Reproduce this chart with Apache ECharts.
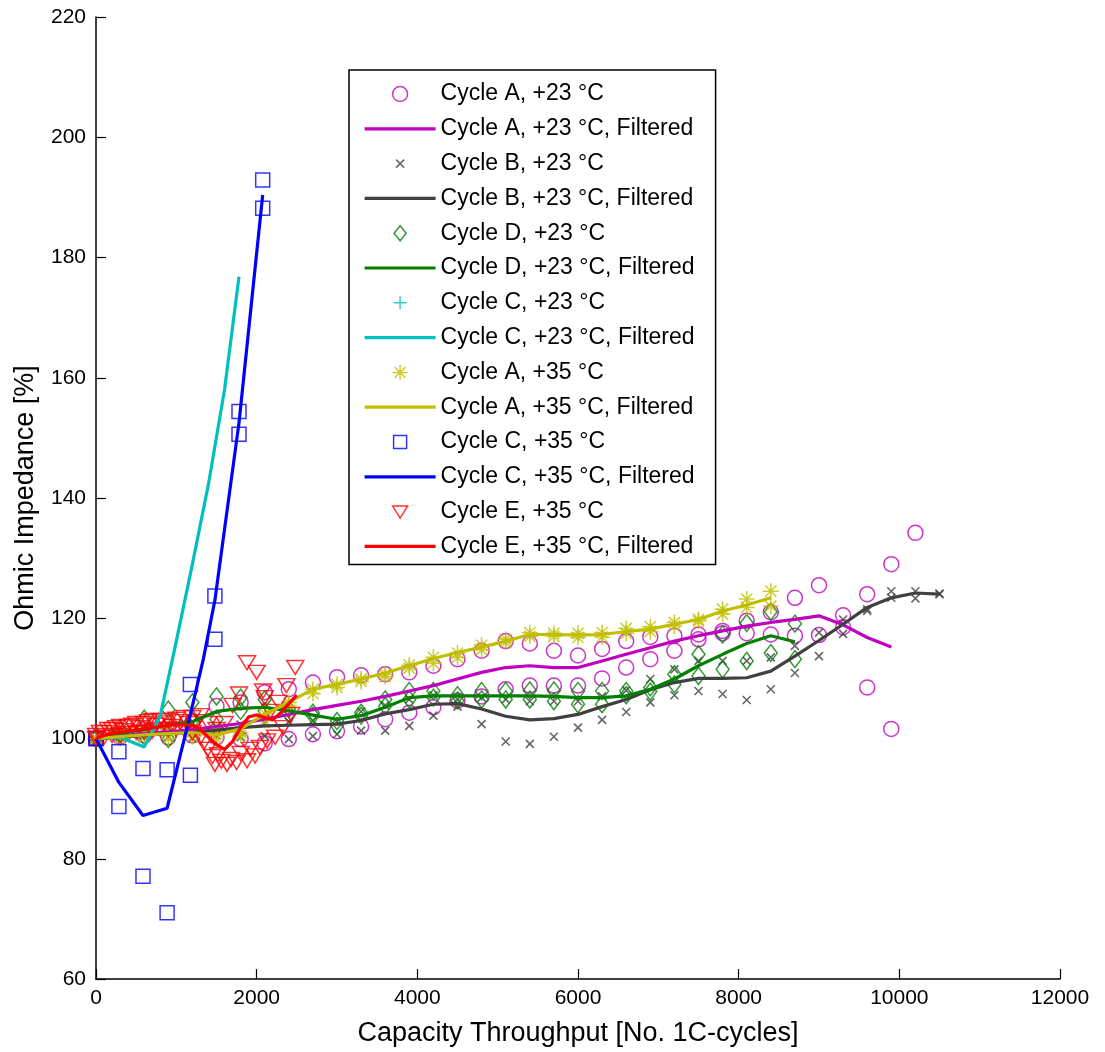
<!DOCTYPE html>
<html>
<head>
<meta charset="utf-8">
<script src="https://cdn.jsdelivr.net/npm/echarts@6/dist/echarts.min.js"></script>
<style>
html,body{margin:0;padding:0;background:#fff;}
#chart{width:1105px;height:1052px;}
</style>
</head>
<body>
<div id="chart"></div>
<script>
// ---------- data ----------
var xTicks = [0, 2000, 4000, 6000, 8000, 10000, 12000];
var yTicks = [60, 80, 100, 120, 140, 160, 180, 200, 220];

// Cycle A, +23 °C
var xA23a = [0,300,600,900,1200,1500,1800,2100,2400,2700,3000,3300,3600,3900,4200,4500,4800,5100,5400,5700,6000,6300,6600,6900,7200,7500,7800,8100,8400,8700,9000,9300,9600,9900,10200];
var yA23a = [100,100.8,101.5,102,102.8,105.4,106,107.7,108.2,109.3,110.2,110.5,110.7,111.0,112.1,113.2,114.6,116.2,115.8,114.6,113.8,114.9,116.2,116.9,117.1,117.3,117.9,119.6,121.0,123.4,125.5,120.5,124.0,129.0,134.2];
var xA23b = [0,300,600,900,1200,1500,1800,2100,2400,2700,3000,3300,3600,3900,4200,4500,4800,5100,5400,5700,6000,6300,6600,6900,7200,7500,7800,8100,8400,8700,9000,9300,9600,9900];
var yA23b = [100,100.3,100.5,100.2,100.5,100.2,99.9,99.2,99.9,100.7,101.2,102,103.2,104.3,105.2,106.3,107,108.2,108.8,108.8,108.8,110,111.8,113.2,114.6,116.5,117.5,117.5,117.3,117.1,117.2,118.5,108.5,101.6];
var xA23f = [0,300,600,900,1200,1500,1800,2100,2400,2700,3000,3300,3600,3900,4200,4500,4800,5100,5400,5700,6000,6300,6600,6900,7200,7500,7800,8100,8400,8700,9000,9300,9600,9900];
var yA23f = [100,100.4,100.8,101.1,101.5,102,102.5,103.2,104,104.8,105.5,106.2,107,107.9,108.8,109.9,111,111.8,112.1,111.8,111.8,112.9,114,115.1,116.2,117.1,117.9,118.7,119.3,119.8,120.4,118.9,116.8,115.2];

// Cycle B, +23 °C
var xB23 = [0,300,600,900,1200,1500,1800,2100,2400,2700,3000,3300,3600,3900,4200,4500,4800,5100,5400,5700,6000,6300,6600,6900,7200,7500,7800,8100,8400,8700,9000,9300,9600,9900,10200,10500];
var yB23a = [100,100.3,100.6,100.3,100,100.5,100.2,100.4,99.9,100.4,100.7,101.3,101.3,102.1,103.8,105.3,102.4,99.5,99.1,100.3,101.8,103.1,104.4,106,107.2,107.9,107.4,106.4,108.2,110.9,113.7,117.4,121.2,123.4,123.3,124.1];
var yB23b = [100,101,101.5,101.8,101.5,102,102.3,102.5,102.8,103,102.8,104.5,105.5,106.5,107.2,106.5,106.8,106.5,106.2,106.2,106.2,107,108,109.9,111.5,112.9,112.9,112.9,113.5,115.4,117.6,119.8,121.5,124.5,124.5,124];
var yB23f = [100,100.2,100.5,100.8,101,101.4,101.8,102.1,102.2,102.3,102.4,103.0,104.1,104.8,105.7,105.8,104.9,103.7,103.1,103.3,104,105.3,106.5,108.1,109.3,110,110,110.1,111.2,113.7,116.3,119,121.8,123.4,124.2,124];

// Cycle D, +23 °C
var xD23 = [0,300,600,900,1200,1500,1800,2100,2400,2700,3000,3300,3600,3900,4200,4500,4800,5100,5400,5700,6000,6300,6600,6900,7200,7500,7800,8100,8400,8700];
var yD23a = [100,101.6,103.3,104.8,106,107,106.8,106.5,104.9,104.3,102.9,104.3,106.5,107.9,107.9,107.2,107.9,107.9,108,108,107.9,107.9,107.9,108.5,110.7,114,117.3,119.2,121.1,119.1];
var yD23b = [100,100.5,100.4,99.9,102.9,103.2,104.6,104.6,104.1,103.8,102.1,103.8,105.4,106.5,106.8,106.3,106.5,106.5,106.5,106.2,105.7,105.7,107.2,107.8,109,110.4,111.5,112.9,114.2,113.2];
var yD23f = [100,100.8,101.5,102.2,102.8,104.5,105,105.2,104.6,103.9,103.2,103.8,105.2,106.8,107.1,107.1,107.1,107.1,107.1,107,106.8,106.8,107.1,108.2,109.9,112.1,114,115.8,117.1,116.1];

// Cycle C, +23 °C
var xC23 = [0,300,600];
var yC23 = [100,100.5,101];
var xC23f = [0,300,600,800,1000,1200,1400,1600,1780];
var yC23f = [100,100.2,98.6,103.8,116.2,129,142.3,158,176.8];

// Cycle A, +35 °C
var xA35 = [0,300,600,900,1200,1500,1800,2100,2400,2700,3000,3300,3600,3900,4200,4500,4800,5100,5400,5700,6000,6300,6600,6900,7200,7500,7800,8100,8400];
var yA35a = [100,100.8,101.2,101.5,101.3,101.2,101,104.1,106,108.2,109,109.9,110.7,112.2,113.5,114.2,115.5,116.5,117.6,117.5,117.5,117.6,118.3,118.6,119.3,119.8,121.5,123.2,124.5];
var yA35b = [100,100,100.2,100,100.3,100,100.5,103,105.5,107.5,108.5,109.5,110.3,111.7,112.5,113.5,114.8,116,117,117,116.8,116.9,117.5,117.8,118.7,119.5,120.7,121.8,122];
var yA35f = [100,100.3,100.6,100.8,101,100.6,101.6,104,106,108.2,109,109.9,110.9,112.1,113.3,114.3,115.2,116.2,117.3,117.3,117.2,117.3,117.8,118.2,119,119.8,121.2,122.2,123.4];

// Cycle C, +35 °C
var xC35 = [0,285,585,885,1175,1480,1780,2075];
var yC35a = [100,97.8,95.0,94.8,109.0,123.7,154.4,192.9];
var yC35b = [100,88.7,77.1,71.0,93.9,116.5,150.6,188.2];
var xC35f = [0,285,585,885,1175,1336,1480,1780,2075];
var yC35f = [100,92.7,87.2,88.4,104,113.2,123,152.5,190.4];

// Cycle E, +35 °C
var xE35a = [0,100,200,300,400,500,600,700,800,900,1000,1100,1200,1300,1400,1500,1600,1700,1780,1880,2000,2080,2170,2270,2370,2480];
var yE35a = [100.5,101,101.5,102,102,102.5,102.5,103,103,103,103.2,103.5,103.5,103.8,102.5,101.5,102.5,105.5,107.4,112.6,111,107.9,104.5,106,108.8,111.8];
var xE35b = [0,100,200,300,400,500,600,700,800,900,1000,1100,1200,1300,1390,1480,1520,1630,1750,1880,1980,2040,2130,2230,2330,2430];
var yE35b = [100,100.2,100.5,100.5,100.8,101,101,101.2,101.5,101.5,101.5,101.5,101,100.2,98.2,95.7,97.3,95.7,96,96.3,97.1,98.5,99.6,100.2,101.8,104];
var xE35c = [50,150,250,350,450,550,650,750,850,950,1050,1150,1250,1350,1450,1560,1680,1800,1920,2100];
var yE35c = [101,101.5,101.8,101.3,102.2,101.8,102.8,102.2,102.6,102,102.8,102.5,102.8,99.5,97,96.2,96.5,97.5,98.2,106.8];
var xE35f = [0,100,200,300,400,500,600,700,800,900,1000,1100,1200,1300,1400,1500,1600,1700,1800,1900,2000,2100,2200,2300,2400,2500];
var yE35f = [100,100.5,100.8,101,101.2,101.4,101.6,101.8,102,102.2,102.3,102.3,102.2,101.5,100.2,99,98.2,99.5,101.8,103.6,103.9,103.5,103.1,104.3,105.8,107.2];

// ---------- helpers ----------
function pts(xs, ys) { return xs.map(function (x, i) { return [x, ys[i]]; }); }

var MAG = '#BF00BF', GRY = '#404040', GRN = '#008000', CYN = '#00BFBF',
    YEL = '#BFBF00', BLU = '#0000FF', RED = '#FF0000';
var FONT = 'Liberation Sans, Arial, Helvetica, sans-serif';
var CLEAR = 'rgba(0,0,0,0)';

var SYM_X = 'path://M0,0L10,10M10,0L0,10';
var SYM_PLUS = 'path://M5,0L5,10M0,5L10,5';
var SYM_STAR = 'path://M10,0L10,20M0,10L20,10M3,3L17,17M17,3L3,17';
var SYM_TRI = 'path://M0,0L20,0L10,16Z';

function scatter(name, data, symbol, size, color, bw) {
  return {
    name: name, type: 'scatter', data: data, symbol: symbol, symbolSize: size,
    itemStyle: { color: CLEAR, borderColor: color, borderWidth: bw || 1.5 },
    emphasis: { disabled: true }, silent: true
  };
}
function line(name, data, color) {
  return {
    name: name, type: 'line', data: data, symbol: 'none', showSymbol: false,
    lineStyle: { color: color, width: 3.2 }, itemStyle: { color: color },
    emphasis: { disabled: true }, silent: true
  };
}

var names = [
  'Cycle A, +23 °C', 'Cycle A, +23 °C, Filtered',
  'Cycle B, +23 °C', 'Cycle B, +23 °C, Filtered',
  'Cycle D, +23 °C', 'Cycle D, +23 °C, Filtered',
  'Cycle C, +23 °C', 'Cycle C, +23 °C, Filtered',
  'Cycle A, +35 °C', 'Cycle A, +35 °C, Filtered',
  'Cycle C, +35 °C', 'Cycle C, +35 °C, Filtered',
  'Cycle E, +35 °C', 'Cycle E, +35 °C, Filtered'
];

var series = [
  scatter(names[0], pts(xA23a, yA23a).concat(pts(xA23b, yA23b)), 'circle', 15, MAG),
  line(names[1], pts(xA23f, yA23f), MAG),
  scatter(names[2], pts(xB23, yB23a).concat(pts(xB23, yB23b)), SYM_X, 8, GRY, 1.6),
  line(names[3], pts(xB23, yB23f), GRY),
  scatter(names[4], pts(xD23, yD23a).concat(pts(xD23, yD23b)), 'diamond', [13, 17], GRN),
  line(names[5], pts(xD23, yD23f), GRN),
  scatter(names[6], pts(xC23, yC23), SYM_PLUS, 14, CYN),
  line(names[7], pts(xC23f, yC23f), CYN),
  scatter(names[8], pts(xA35, yA35a).concat(pts(xA35, yA35b)), SYM_STAR, 16, YEL),
  line(names[9], pts(xA35, yA35f), YEL),
  scatter(names[10], pts(xC35, yC35a).concat(pts(xC35, yC35b)), 'rect', 14, BLU),
  line(names[11], pts(xC35f, yC35f), BLU),
  scatter(names[12], pts(xE35a, yE35a).concat(pts(xE35b, yE35b)).concat(pts(xE35c, yE35c)), SYM_TRI, [17, 14], RED),
  line(names[13], pts(xE35f, yE35f), RED)
];

var legendIcons = {};
legendIcons[names[0]] = 'circle';
legendIcons[names[2]] = 'path://M0,0M15,15M3.5,3.5L11.5,11.5M11.5,3.5L3.5,11.5';
legendIcons[names[4]] = 'path://M0,0M15,15M7.5,0L13.5,7.5L7.5,15L1.5,7.5Z';
legendIcons[names[6]] = 'path://M0,0M15,15M7.5,1L7.5,14M1,7.5L14,7.5';
legendIcons[names[8]] = 'path://M0,0M15,15M7.5,0L7.5,15M0,7.5L15,7.5M2.2,2.2L12.8,12.8M12.8,2.2L2.2,12.8';
legendIcons[names[10]] = 'path://M0,0M15,15M1,1L14,1L14,14L1,14Z';
legendIcons[names[12]] = 'path://M0,0M15,15M0,2L15,2L7.5,14Z';

var legendData = names.map(function (n, i) {
  if (i % 2 === 0) {
    return { name: n, icon: legendIcons[n], itemStyle: { color: CLEAR, borderColor: series[i].itemStyle.borderColor, borderWidth: 1.5 } };
  }
  return { name: n, lineStyle: { width: 3.2, color: series[i].lineStyle.color },
           itemStyle: { color: CLEAR, borderColor: CLEAR, borderWidth: 0, opacity: 0 } };
});

var chart = echarts.init(document.getElementById('chart'), null, { renderer: 'canvas' });
chart.setOption({
  animation: false,
  backgroundColor: '#fff',
  textStyle: { fontFamily: FONT },
  grid: { left: 96, right: 45, top: 17, bottom: 72, containLabel: false },
  xAxis: {
    type: 'value', min: xTicks[0], max: xTicks[xTicks.length - 1], interval: 2000,
    name: 'Capacity Throughput [No. 1C-cycles]', nameLocation: 'middle', nameGap: 41,
    nameTextStyle: { fontSize: 27, color: '#000', fontFamily: FONT },
    axisLine: { show: true, onZero: false, lineStyle: { color: '#000', width: 1.5 } },
    axisTick: { show: true, inside: true, length: 10, lineStyle: { color: '#000', width: 1.2 } },
    axisLabel: { fontSize: 21, color: '#000', margin: 9, fontFamily: FONT,
                 formatter: function (v) { return String(v); } },
    splitLine: { show: false }
  },
  yAxis: {
    type: 'value', min: yTicks[0], max: yTicks[yTicks.length - 1], interval: 20,
    name: 'Ohmic Impedance [%]', nameLocation: 'middle', nameGap: 57,
    nameTextStyle: { fontSize: 27, color: '#000', fontFamily: FONT },
    axisLine: { show: true, onZero: false, lineStyle: { color: '#000', width: 1.5 } },
    axisTick: { show: true, inside: true, length: 10, lineStyle: { color: '#000', width: 1.2 } },
    axisLabel: { fontSize: 21, color: '#000', margin: 10, fontFamily: FONT,
                 formatter: function (v) { return String(v); } },
    splitLine: { show: false }
  },
  legend: {
    data: legendData,
    orient: 'vertical', left: 349, top: 70,
    padding: [12, 21, 6, 14],
    itemWidth: 71, itemHeight: 15, itemGap: 10.8,
    backgroundColor: '#fff', borderColor: '#000', borderWidth: 1.5,
    selectedMode: false,
    textStyle: { fontSize: 23, lineHeight: 24, color: '#000', fontFamily: FONT },
    z: 10
  },
  series: series
});
</script>
</body>
</html>
